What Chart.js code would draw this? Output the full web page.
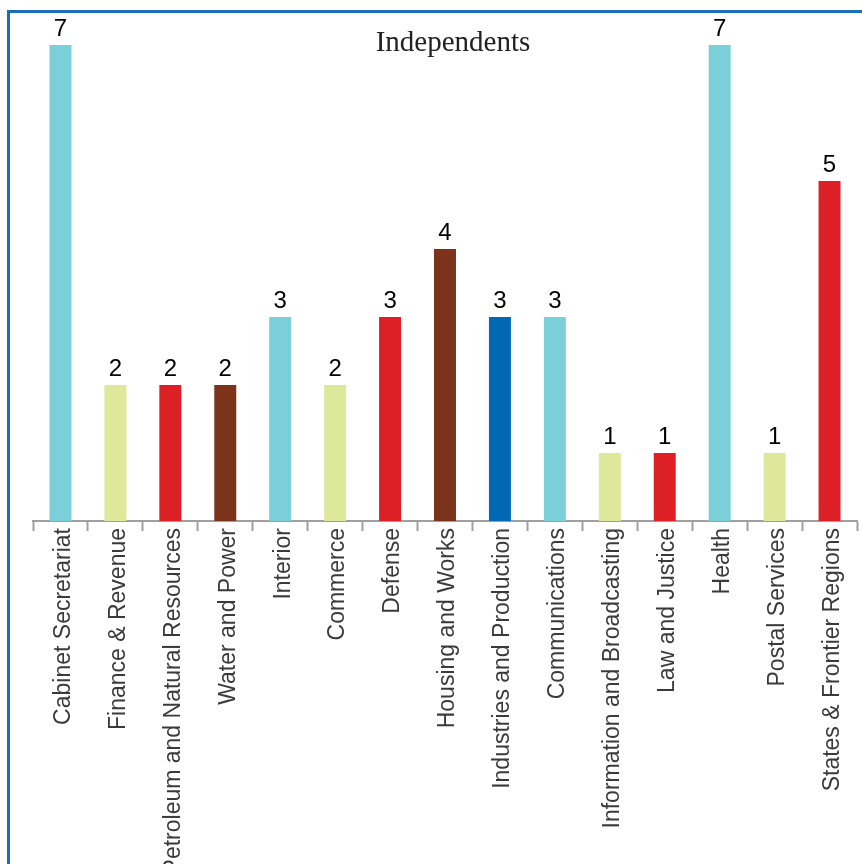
<!DOCTYPE html>
<html>
<head>
<meta charset="utf-8">
<script src="https://cdn.jsdelivr.net/npm/chart.js@4/dist/chart.umd.min.js"></script>
<style>
  html, body { margin: 0; padding: 0; background: #fff; }
  #wrap { position: relative; width: 862px; height: 864px; overflow: hidden; }
  #frame {
    position: absolute; left: 7px; top: 10px; right: -10px; bottom: -10px;
    border-top: 3px solid #1a6fbd; border-left: 3px solid #1a6fbd;
    pointer-events: none;
  }
  canvas { position: absolute; left: 0; top: 0; }
</style>
</head>
<body>
<div id="wrap">
  <canvas id="chart" width="862" height="864"></canvas>
  <div id="frame"></div>
</div>
<script>
"use strict";

// categories and values
const departments = [
  'Cabinet Secretariat', 'Finance & Revenue', 'Petroleum and Natural Resources',
  'Water and Power', 'Interior', 'Commerce', 'Defense', 'Housing and Works',
  'Industries and Production', 'Communications', 'Information and Broadcasting',
  'Law and Justice', 'Health', 'Postal Services', 'States & Frontier Regions'
];
const counts = [7, 2, 2, 2, 3, 2, 3, 4, 3, 3, 1, 1, 7, 1, 5];
const barColors = [
  '#7acfd8', '#dde89a', '#dd1f26', '#7b331b', '#7acfd8', '#dde89a', '#dd1f26',
  '#7b331b', '#0068b4', '#7acfd8', '#dde89a', '#dd1f26', '#7acfd8', '#dde89a', '#dd1f26'
];
const chartTitle = 'Independents';

// value labels above each bar + the title
const labelPlugin = {
  id: 'labelPlugin',
  afterDatasetsDraw(chart) {
    const ctx = chart.ctx;
    const meta = chart.getDatasetMeta(0);
    ctx.save();
    ctx.fillStyle = '#000';
    ctx.font = '24px "Liberation Sans", Arial, sans-serif';
    ctx.textAlign = 'center';
    ctx.textBaseline = 'alphabetic';
    meta.data.forEach((bar, i) => {
      ctx.fillText(String(counts[i]), bar.x, bar.y - 9);
    });
    ctx.fillStyle = '#222';
    ctx.font = '29px "Liberation Serif", "Times New Roman", serif';
    ctx.textBaseline = 'middle';
    ctx.fillText(chartTitle, 453, 43);
    ctx.restore();
  }
};

new Chart(document.getElementById('chart').getContext('2d'), {
  type: 'bar',
  data: {
    labels: departments,
    datasets: [{
      data: counts,
      backgroundColor: barColors,
      barPercentage: 0.4,
      categoryPercentage: 1.0
    }]
  },
  options: {
    responsive: false,
    animation: false,
    layout: { padding: { left: 33, right: 5, top: 45, bottom: 0 } },
    plugins: {
      legend: { display: false },
      title: { display: false },
      tooltip: { enabled: false }
    },
    scales: {
      x: {
        afterFit(scale) { scale.height = 343; },
        border: { display: true, color: '#a0a0a0', width: 2 },
        grid: {
          display: true,
          offset: true,
          drawOnChartArea: false,
          drawTicks: true,
          tickLength: 10,
          tickWidth: 2,
          tickColor: '#a0a0a0'
        },
        ticks: {
          autoSkip: false,
          minRotation: 90,
          maxRotation: 90,
          padding: -3,
          labelOffset: 3,
          color: '#3a3a3a',
          font: { family: '"Liberation Sans", Arial, sans-serif', size: 23 }
        }
      },
      y: {
        display: false,
        min: 0,
        max: 7
      }
    }
  },
  plugins: [labelPlugin]
});
</script>
</body>
</html>
